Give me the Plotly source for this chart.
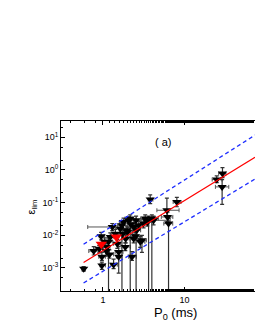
import plotly.graph_objects as go

# Data
P0 = [0.58, 0.77, 0.95, 0.97, 0.97, 1.12, 1.17, 1.23, 1.30, 1.35, 1.56, 1.56, 1.63, 1.71, 1.79,
      1.88, 1.97, 2.06, 2.16, 2.27, 2.38, 2.49, 2.55, 2.74, 2.87, 3.01, 3.15, 3.30, 3.63, 3.80,
      3.98, 4.18, 6.09, 6.20, 6.38, 8.07, 24.9, 29.3, 29.0, 1.05, 1.42, 1.50, 1.20, 0.90, 2.00,
      2.60, 1.90, 2.20, 2.40, 1.75, 1.10, 3.50]
P0_err_minus = [0.03, 0.10, 0.05, 0.08, 0.05, 0.10, 0.10, 0.10, 0.65, 0.10, 0.15, 0.10, 0.20, 0.20, 0.20,
                0.20, 0.20, 0.25, 0.30, 0.20, 0.20, 0.30, 0.30, 0.30, 0.30, 0.30, 0.40, 0.40, 0.50, 0.20,
                0.80, 0.50, 1.50, 1.00, 0.80, 0.80, 3.0, 3.0, 5.0, 0.10, 0.15, 0.15, 0.10, 0.10, 0.20,
                0.30, 0.20, 0.20, 0.30, 0.20, 0.10, 0.40]
P0_err_plus = [0.03, 0.15, 0.10, 0.10, 0.10, 0.10, 0.15, 0.20, 0.40, 0.15, 0.20, 0.15, 0.30, 0.30, 0.30,
               0.30, 0.30, 0.30, 0.40, 0.30, 0.30, 0.30, 0.40, 0.40, 0.40, 0.40, 0.50, 0.50, 0.60, 0.30,
               0.80, 2.50, 2.50, 1.00, 0.80, 1.00, 4.0, 3.0, 6.0, 0.10, 0.20, 0.15, 0.15, 0.10, 0.30,
               0.30, 0.20, 0.30, 0.30, 0.20, 0.10, 0.50]
eps_lim = [9.5e-4, 3.3e-3, 9.3e-3, 2.2e-3, 1.2e-3, 4.4e-3, 6.3e-3, 8.9e-3, 1.8e-2, 1.26e-3, 3.1e-3, 2.2e-3,
           1.6e-2, 2.03e-2, 2.56e-2, 4.4e-3, 1.42e-2, 2.88e-2, 3.25e-2, 2.2e-3, 7.9e-3, 9.3e-3, 2.88e-2,
           2.03e-2, 6.3e-3, 7.0e-3, 2.28e-2, 3.25e-2, 2.88e-2, 0.124, 3.25e-2, 2.88e-2, 5.85e-2, 3.65e-2,
           2.28e-2, 0.105, 0.51, 0.78, 0.304, 6.3e-3, 1.12e-2, 5.5e-3, 2.6e-3, 3.9e-3, 1.26e-2, 1.42e-2,
           7.9e-3, 2.2e-2, 1.8e-2, 1.1e-2, 3.3e-3, 2.5e-2]
eps_err_minus = [1.5e-4, 8e-4, 2e-3, 5e-4, 3e-4, 1e-3, 6.29e-3, 2e-3, 4e-3, 3e-4, 8e-4, 1.5e-3,
                 4e-3, 2.029e-2, 5e-3, 1e-3, 4e-3, 6e-3, 3.249e-2, 5e-4, 2e-3, 2e-3, 2.879e-2,
                 5e-3, 2e-3, 4e-3, 6e-3, 8e-3, 2.879e-2, 3e-2, 3.249e-2, 8e-3, 2e-2, 1e-2,
                 2.279e-2, 3e-2, 0.1, 0.2, 0.215, 1.5e-3, 3e-3, 1.5e-3, 6e-4, 1e-3, 4e-3, 4e-3,
                 2e-3, 5e-3, 4e-3, 3e-3, 1e-3, 6e-3]
eps_err_plus = [1.5e-4, 1.2e-3, 3e-3, 8e-4, 3e-4, 2e-3, 2e-3, 3e-3, 5e-3, 6e-4, 1.5e-3, 1e-3,
                5e-3, 5e-3, 8e-3, 1.5e-3, 5e-3, 8e-3, 1e-2, 1e-3, 3e-3, 3e-3, 1e-2,
                7e-3, 3e-3, 3e-3, 8e-3, 1e-2, 1e-2, 5e-2, 1e-2, 1e-2, 8e-2, 1.5e-2,
                1e-2, 4e-2, 0.15, 0.4, 0.2, 2e-3, 4e-3, 2e-3, 1e-3, 1e-3, 5e-3, 5e-3,
                3e-3, 8e-3, 6e-3, 4e-3, 1e-3, 8e-3]

red_P0 = [0.955, 1.46]
red_eps = [5.3e-3, 8.9e-3]

fit_P0 = [0.578, 73.5]
fit_eps = [1.47e-3, 2.45]
upper_eps = [5.3e-3, 11.7]
lower_eps = [3.47e-4, 0.53]

y_tickvals = [1e-3, 1e-2, 1e-1, 1e0, 1e1]
y_ticktext = ["10<sup>-3</sup>", "10<sup>-2</sup>", "10<sup>-1</sup>", "10<sup>0</sup>", "10<sup>1</sup>"]
x_tickvals = [1, 10]
x_ticktext = ["1", "10"]

fig = go.Figure()

fig.add_trace(go.Scatter(
    x=P0, y=eps_lim, mode="markers",
    marker=dict(symbol="triangle-down", size=8, color="black"),
    error_x=dict(type="data", array=P0_err_plus, arrayminus=P0_err_minus,
                 color="#555555", thickness=1, width=2),
    error_y=dict(type="data", array=eps_err_plus, arrayminus=eps_err_minus,
                 color="#333333", thickness=1.2, width=2),
    showlegend=False,
))
fig.add_trace(go.Scatter(
    x=fit_P0, y=upper_eps, mode="lines",
    line=dict(color="#1f2fff", width=1.3, dash="4px,3px"), showlegend=False))
fig.add_trace(go.Scatter(
    x=fit_P0, y=lower_eps, mode="lines",
    line=dict(color="#1f2fff", width=1.3, dash="4px,3px"), showlegend=False))
fig.add_trace(go.Scatter(
    x=fit_P0, y=fit_eps, mode="lines",
    line=dict(color="red", width=1.2), showlegend=False))
fig.add_trace(go.Scatter(
    x=red_P0, y=red_eps, mode="markers",
    marker=dict(symbol="triangle-down", size=10, color="red"),
    showlegend=False))

fig.update_layout(
    width=255, height=330,
    margin=dict(l=61, r=0, t=121, b=39),
    paper_bgcolor="white", plot_bgcolor="white",
    font=dict(family="Liberation Sans, Arial", color="black", size=9),
    annotations=[
        dict(x=0.526, y=0.925, xref="paper", yref="paper", text="( a)",
             showarrow=False, font=dict(size=11)),
        dict(x=0.588, y=-0.135, xref="paper", yref="paper", text="P<sub>0</sub> (ms)",
             showarrow=False, font=dict(size=13), yanchor="middle"),
        dict(x=-0.151, y=0.496, xref="paper", yref="paper", text="ε<sub>lim</sub>",
             showarrow=False, font=dict(size=11), textangle=-90,
             xanchor="center", yanchor="middle"),
    ],
)
fig.update_xaxes(
    type="log", range=[-0.515, 1.866],
    tickvals=x_tickvals, ticktext=x_ticktext,
    ticks="inside", ticklen=4, tickwidth=1, tickcolor="black",
    showline=True, linecolor="black", linewidth=1, mirror="ticks",
    showgrid=False, zeroline=False,
    minor=dict(ticks="inside", ticklen=2, tickcolor="black", showgrid=False),
)
fig.update_yaxes(
    type="log", range=[-3.705, 1.5],
    tickvals=y_tickvals, ticktext=y_ticktext,
    ticks="inside", ticklen=4, tickwidth=1, tickcolor="black",
    showline=True, linecolor="black", linewidth=1, mirror=False,
    showgrid=False, zeroline=False,
    minor=dict(ticks="inside", ticklen=2, tickcolor="black", showgrid=False),
)

fig.write_html("out.html", config={"displayModeBar": False},
               post_script="document.body.style.margin='0';document.body.style.overflow='hidden';")
